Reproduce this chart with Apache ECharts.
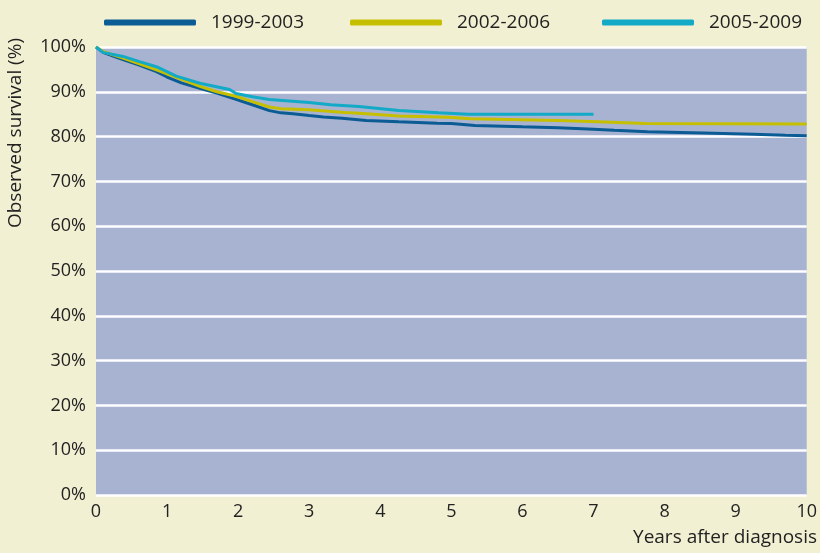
<!DOCTYPE html>
<html><head><meta charset="utf-8">
<script src="https://cdn.jsdelivr.net/npm/echarts@6/dist/echarts.min.js"></script>
<style>html,body{margin:0;padding:0;background:#f2f0d3;}#c{width:820px;height:553px;}</style>
</head><body><div id="c"></div>
<script>
var seriesNames = ['1999-2003', '2002-2006', '2005-2009'];
var xTicks = [0,1,2,3,4,5,6,7,8,9,10];
var yTicks = [0,10,20,30,40,50,60,70,80,90,100];

var years1999 = [0,0.1,0.25,0.4,0.6,0.85,1.0,1.2,1.46,1.7,1.97,2.2,2.44,2.6,2.77,3.0,3.2,3.46,3.8,4.26,4.8,5.0,5.33,6.0,6.5,6.92,7.29,7.76,8.55,9.25,9.7,10];
var surv1999  = [100,98.8,97.9,97.1,96.0,94.5,93.3,92.0,90.8,89.7,88.3,87.1,85.8,85.3,85.1,84.7,84.4,84.1,83.6,83.3,83.0,82.9,82.5,82.2,82.0,81.7,81.4,81.1,80.8,80.5,80.3,80.2];

var years2002 = [0,0.1,0.38,0.6,0.85,1.13,1.46,1.7,1.97,2.2,2.44,2.6,3.0,3.5,3.7,4.26,4.96,5.27,6.5,7.06,7.73,10];
var surv2002  = [100,99.0,97.5,96.3,94.9,93.2,91.2,90.0,89.0,87.8,86.6,86.2,86.0,85.4,85.2,84.6,84.3,84.0,83.6,83.3,82.9,82.8];

var years2005 = [0,0.1,0.38,0.6,0.85,1.13,1.46,1.88,1.97,2.2,2.44,3.0,3.3,3.7,4.26,4.82,5.24,7.0];
var surv2005  = [100,98.8,97.9,96.8,95.6,93.5,91.9,90.5,89.6,88.9,88.3,87.6,87.1,86.7,85.8,85.3,85.0,85.0];

var colors = ['#0b5b95', '#c6bf00', '#12aac6'];
var FONT = 'Open Sans';

function pairs(xs, ys){ return xs.map(function(x,i){ return [x, ys[i]]; }); }

var chart = echarts.init(document.getElementById('c'));
function legendAt(i, left){
  return {
    data:[seriesNames[i]], left:left, top:8, itemWidth:92, itemHeight:6, itemGap:0,
    icon:'roundRect',
    textStyle:{fontFamily:FONT, fontSize:19, color:'#222', padding:[0,0,0,10]}
  };
}
chart.setOption({
  backgroundColor:'#f2f0d3',
  animation:false,
  color:colors,
  legend:[legendAt(0,99), legendAt(1,345), legendAt(2,597)],
  grid:{left:96, right:10, top:47, bottom:58, show:true, backgroundColor:'#a7b3d1', borderWidth:0},
  xAxis:{
    type:'value', min:xTicks[0], max:xTicks[xTicks.length-1], interval:1,
    axisLine:{show:false}, axisTick:{show:false}, splitLine:{show:false},
    axisLabel:{fontFamily:FONT, fontSize:18, color:'#222', margin:8}
  },
  yAxis:{
    type:'value', min:yTicks[0], max:yTicks[yTicks.length-1], interval:10,
    axisLine:{show:false}, axisTick:{show:false},
    splitLine:{show:true, lineStyle:{color:'#ffffff', width:2.5}},
    axisLabel:{fontFamily:FONT, fontSize:18, color:'#222', margin:10, formatter:'{value}%'}
  },
  graphic:[
    {type:'text', right:3, top:528, style:{text:'Years after diagnosis', font:'19px "Open Sans"', fill:'#222'}},
    {type:'text', x:6, y:133, rotation:Math.PI/2, style:{text:'Observed survival (%)', font:'19px "Open Sans"', fill:'#222', textAlign:'center', textVerticalAlign:'top'}}
  ],
  series:[
    {name:seriesNames[0], type:'line', data:pairs(years1999,surv1999), symbol:'none', lineStyle:{width:3, color:colors[0]}, z:2},
    {name:seriesNames[1], type:'line', data:pairs(years2002,surv2002), symbol:'none', lineStyle:{width:3, color:colors[1]}, z:3},
    {name:seriesNames[2], type:'line', data:pairs(years2005,surv2005), symbol:'none', lineStyle:{width:3, color:colors[2]}, z:4}
  ]
});
</script></body></html>
